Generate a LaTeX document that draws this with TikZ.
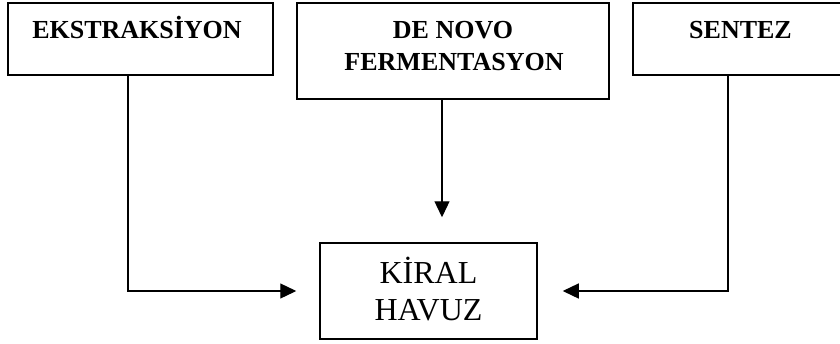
\documentclass[tikz,border=0pt]{standalone}
\usepackage{fontspec}
\setmainfont{Liberation Serif}
\usetikzlibrary{arrows.meta}
\tikzset{
  boxshape/.style={draw=black, line width=1.5pt, rectangle, inner sep=0pt, fill=white},
  toptext/.style={anchor=base, inner sep=0pt, font=\fontsize{26}{32}\selectfont\bfseries},
  poolText/.style={anchor=base, inner sep=0pt, font=\fontsize{32}{37}\selectfont},
  arr/.style={draw=black, line width=1.3pt, -{Triangle[length=16pt,width=15pt]}}
}
\begin{document}
\begin{tikzpicture}[x=1pt,y=-1pt]
\clip (0,0) rectangle (840,343);
\fill[white] (0,0) rectangle (840,343);
% boxes
\node[boxshape, minimum width=265pt, minimum height=72pt] (ek) at (140.5,39) {};
\node[boxshape, minimum width=312pt, minimum height=96pt] (dn) at (453,51) {};
\node[boxshape, minimum width=214pt, minimum height=72pt] (se) at (740,39) {};
\node[boxshape, minimum width=217pt, minimum height=96pt] (kh) at (428.5,291) {};
% texts
\node[toptext] (ekt) at (137,38) {EKSTRAKSİYON};
\node[toptext] (dnt1) at (453,38) {DE NOVO};
\node[toptext] (dnt2) at (454,70) {FERMENTASYON};
\node[toptext] (set) at (740.5,38) {SENTEZ};
\node[poolText] (kt1) at (428.5,283) {KİRAL};
\node[poolText] (kt2) at (428.5,320) {HAVUZ};
% connectors
\draw[arr, shorten >=23pt] ([xshift=-12.5pt]ek.south) |- (kh.west);
\draw[arr, shorten >=25pt] ([xshift=-11pt]dn.south) -- ([xshift=-11pt]dn.south |- kh.north);
\draw[arr, shorten >=25pt] ([xshift=-12pt]se.south) |- (kh.east);
\end{tikzpicture}
\end{document}
